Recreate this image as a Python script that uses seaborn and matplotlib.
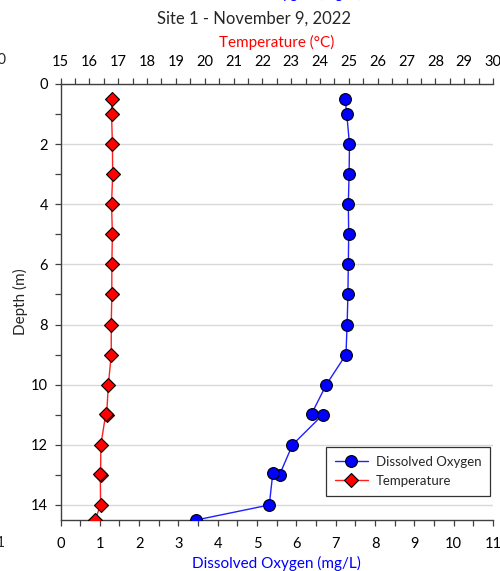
import matplotlib
matplotlib.use("Agg")
import matplotlib.pyplot as plt
from matplotlib.ticker import MultipleLocator
from matplotlib.lines import Line2D
import pandas as pd
import seaborn as sns

# Profile readings, in sampling order
do_depth = [0.5, 1, 2, 3, 4, 5, 6, 7, 8, 9, 10, 10.96, 11.0, 12, 13.0, 12.94, 14, 14.5]
do_mgl = [7.24, 7.28, 7.35, 7.34, 7.32, 7.33, 7.32, 7.31, 7.29, 7.26,
          6.76, 6.39, 6.67, 5.90, 5.57, 5.40, 5.31, 3.45]

temp_depth = [0.5, 1, 2, 3, 4, 5, 6, 7, 8, 9, 10, 11.0, 10.97, 12, 13.0, 12.96, 14, 14.5]
temp_c = [16.78, 16.77, 16.80, 16.81, 16.77, 16.80, 16.78, 16.78, 16.76, 16.76,
          16.66, 16.60, 16.57, 16.40, 16.39, 16.38, 16.39, 16.20]

title = "Site 1 - November 9, 2022"
do_label = "Dissolved Oxygen (mg/L)"
temp_label = "Temperature (°C)"
depth_label = "Depth (m)"

do_df = pd.DataFrame({"depth": do_depth, "do": do_mgl})
temp_df = pd.DataFrame({"depth": temp_depth, "temp": temp_c})

sns.set_theme(style="white")
plt.rcParams["font.family"] = ["Lato", "DejaVu Sans"]

fig = plt.figure(figsize=(5.0, 5.71), dpi=100)
ax = fig.add_axes([0.121, 0.0893, 0.865, 0.7637])
ax2 = ax.twiny()

sns.lineplot(data=do_df, x="do", y="depth", sort=False, estimator=None,
             color="#1f1fff", lw=1.0, marker="o", markersize=8.5,
             markerfacecolor="#0000ff", markeredgecolor="black",
             markeredgewidth=0.8, ax=ax, zorder=3)
sns.lineplot(data=temp_df, x="temp", y="depth", sort=False, estimator=None,
             color="#ff1f1f", lw=1.0, marker="D", markersize=7,
             markerfacecolor="#ff0000", markeredgecolor="black",
             markeredgewidth=0.8, ax=ax2, zorder=3)

ax.set_xlim(0, 11)
ax2.set_xlim(15, 30)
ax.set_ylim(14.5, 0)

ax.xaxis.set_major_locator(MultipleLocator(1))
ax.xaxis.set_minor_locator(MultipleLocator(0.5))
ax2.xaxis.set_major_locator(MultipleLocator(1))
ax2.xaxis.set_minor_locator(MultipleLocator(0.5))
ax.yaxis.set_major_locator(MultipleLocator(2))
ax.yaxis.set_minor_locator(MultipleLocator(1))

ax.grid(False)
ax2.grid(False)
ax.yaxis.grid(True, which="major", color="#d9d9d9", lw=1.0)
ax.set_axisbelow(True)

for a in (ax, ax2):
    for side in ("left", "right", "top", "bottom"):
        a.spines[side].set_visible(False)
    a.patch.set_visible(False)
ax.spines["left"].set_visible(True)
ax.spines["bottom"].set_visible(True)
ax2.spines["top"].set_visible(True)
for sp in (ax.spines["left"], ax.spines["bottom"], ax2.spines["top"]):
    sp.set_color("#404040")
    sp.set_linewidth(1.0)

tick_kw = dict(direction="out", length=4, width=0.9, color="#404040",
               labelsize=10.5, labelcolor="black")
ax.tick_params(axis="x", which="both", bottom=True, top=False, pad=8.5, **tick_kw)
ax.tick_params(axis="y", which="both", left=True, right=False, pad=5, **tick_kw)
ax2.tick_params(axis="x", which="both", top=True, bottom=False, pad=6.5, **tick_kw)

ax.set_xlabel(do_label, color="#0000ff", fontsize=11, labelpad=3.5)
ax2.set_xlabel(temp_label, color="#ff0000", fontsize=11, labelpad=6)
ax.set_ylabel(depth_label, fontsize=11, labelpad=2)

fig.text(0.508, 0.968, title, ha="center", va="center", fontsize=12)

# neighbouring panel edges
fig.text(0.012, 0.895, "30", ha="right", va="center", fontsize=10.5)
fig.text(0.012, 0.049, "11", ha="right", va="center", fontsize=10.5)
fig.text(0.554, 1.004, do_label, ha="center", va="baseline",
         color="#0000ff", fontsize=11)

handles = [
    Line2D([], [], color="#1f1fff", lw=1.0, marker="o", markersize=8.5,
           markerfacecolor="#0000ff", markeredgecolor="black", markeredgewidth=0.8),
    Line2D([], [], color="#ff1f1f", lw=1.0, marker="D", markersize=7,
           markerfacecolor="#ff0000", markeredgecolor="black", markeredgewidth=0.8),
]
leg = ax2.legend(handles, ["Dissolved Oxygen", "Temperature"],
                 loc="lower right", bbox_to_anchor=(1.008, 0.041),
                 fontsize=9.5, frameon=True, fancybox=False, handlelength=2.5,
                 handletextpad=0.6, borderpad=0.65, labelspacing=0.55)
leg.get_frame().set_edgecolor("black")
leg.get_frame().set_linewidth(0.9)

fig.savefig("out.png", dpi=100)
